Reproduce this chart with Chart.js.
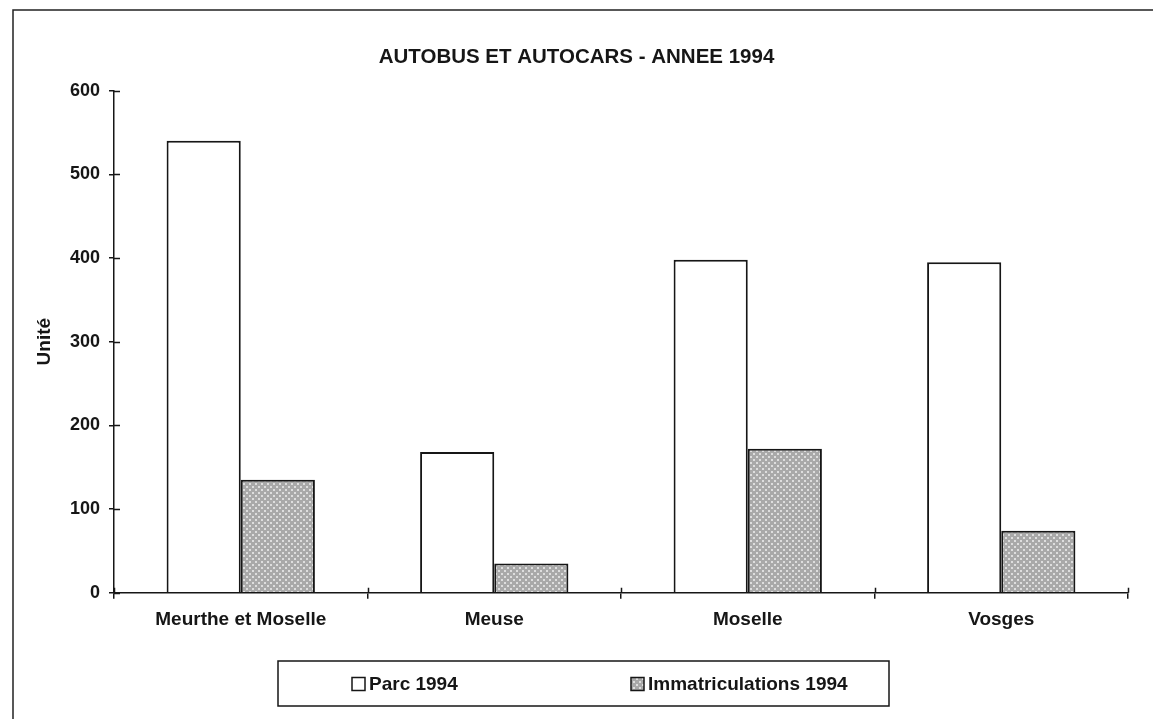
<!DOCTYPE html>
<html>
<head>
<meta charset="utf-8">
<title>Autobus et autocars - Année 1994</title>
<script src="https://cdn.jsdelivr.net/npm/chart.js@4.4.1/dist/chart.umd.min.js"></script>
<style>
  html, body { margin: 0; padding: 0; background: #fff; }
  #wrap { width: 1153px; height: 719px; }
</style>
</head>
<body>
<div id="wrap"><canvas id="chart"></canvas></div>
<script>
// Données
const departements = ['Meurthe et Moselle', 'Meuse', 'Moselle', 'Vosges'];
const parc1994 = [540, 168, 398, 395];
const immat1994 = [135, 35, 172, 74];
const yTicks = [0, 100, 200, 300, 400, 500, 600];
const titre = 'AUTOBUS ET AUTOCARS - ANNEE 1994';
const serieLabels = ['Parc 1994', 'Immatriculations 1994'];
const axeY = 'Unité';

const FONT = '"Liberation Sans", Arial, Helvetica, sans-serif';
const INK = '#161616';

Chart.defaults.font.family = FONT;
Chart.defaults.color = INK;

const canvas = document.getElementById('chart');
const ctx = canvas.getContext('2d');

// Trame grise pointillée des immatriculations
function makePattern() {
  const c = document.createElement('canvas');
  c.width = 6; c.height = 6;
  const g = c.getContext('2d');
  g.fillStyle = '#a9a9a9';
  g.fillRect(0, 0, 6, 6);
  g.fillStyle = '#dedede';
  g.fillRect(0, 0, 2, 2);
  g.fillRect(3, 3, 2, 2);
  return ctx.createPattern(c, 'repeat');
}
const trame = makePattern();

// Cadre extérieur (coupé à droite et en bas comme sur le scan)
const cadre = {
  id: 'cadre',
  beforeDraw(chart) {
    const c = chart.ctx;
    c.save();
    c.strokeStyle = '#222';
    c.lineWidth = 1.5;
    c.beginPath();
    c.moveTo(13, chart.height);
    c.lineTo(13, 10);
    c.lineTo(chart.width, 10);
    c.stroke();
    c.restore();
  }
};

// Petites graduations qui traversent les axes
const innerTicks = {
  id: 'innerTicks',
  afterDatasetsDraw(chart) {
    const {ctx: c, chartArea, scales: {x, y}} = chart;
    c.save();
    c.strokeStyle = INK;
    c.lineWidth = 1.5;
    c.beginPath();
    y.ticks.forEach(t => {
      const py = Math.round(y.getPixelForValue(t.value)) + 0.5;
      c.moveTo(chartArea.left, py);
      c.lineTo(chartArea.left + 6, py);
    });
    for (let i = 0; i <= departements.length; i++) {
      const px = Math.round(x.getPixelForValue(i - 0.5)) + 0.5;
      c.moveTo(px, chartArea.bottom);
      c.lineTo(px, chartArea.bottom - 5);
    }
    c.stroke();
    c.restore();
  }
};

// Légende encadrée en bas
const legendeBox = {
  id: 'legendeBox',
  afterDraw(chart) {
    const c = chart.ctx;
    c.save();
    c.strokeStyle = INK;
    c.lineWidth = 1.5;
    c.strokeRect(278, 661, 611, 45);
    c.font = 'bold 19px ' + FONT;
    c.textBaseline = 'middle';
    const pos = [352, 631];
    chart.data.datasets.forEach((ds, i) => {
      const x0 = pos[i];
      const yc = 684;
      c.fillStyle = ds.backgroundColor;
      c.fillRect(x0, yc - 6.5, 13, 13);
      c.lineWidth = 1.5;
      c.strokeStyle = INK;
      c.strokeRect(x0, yc - 6.5, 13, 13);
      c.fillStyle = INK;
      c.fillText(ds.label, x0 + 17, yc + 1);
    });
    c.restore();
  }
};

new Chart(ctx, {
  type: 'bar',
  data: {
    labels: departements,
    datasets: [
      {
        label: serieLabels[0],
        data: parc1994,
        backgroundColor: '#ffffff',
        borderColor: INK,
        borderWidth: 2
      },
      {
        label: serieLabels[1],
        data: immat1994,
        backgroundColor: trame,
        borderColor: INK,
        borderWidth: 2
      }
    ]
  },
  options: {
    responsive: true,
    maintainAspectRatio: false,
    animation: false,
    layout: { padding: { top: 0, right: 25, bottom: 77.5, left: 25 } },
    datasets: {
      bar: { categoryPercentage: 0.585, barPercentage: 1 }
    },
    plugins: {
      legend: { display: false },
      tooltip: { enabled: false },
      title: {
        display: true,
        text: titre,
        font: { size: 20.5, weight: 'bold' },
        color: INK,
        padding: { top: 45, bottom: 21 }
      }
    },
    scales: {
      x: {
        grid: { display: true, drawOnChartArea: false, tickLength: 6, color: INK, lineWidth: 1.5 },
        border: { display: true, color: INK, width: 1.5 },
        ticks: { font: { size: 19, weight: 'bold' }, padding: 10, maxRotation: 0 }
      },
      y: {
        min: 0,
        max: 600,
        afterBuildTicks: s => { s.ticks = yTicks.map(v => ({ value: v })); },
        afterFit: s => { s.width = 89; },
        grid: { display: true, drawOnChartArea: false, tickLength: 5, color: INK, lineWidth: 1.5 },
        border: { display: true, color: INK, width: 1.5 },
        ticks: { font: { size: 18, weight: 'bold' }, padding: 9 },
        title: {
          display: true,
          text: axeY,
          font: { size: 19, weight: 'bold' },
          padding: { top: 8 }
        }
      }
    }
  },
  plugins: [cadre, innerTicks, legendeBox]
});
</script>
</body>
</html>
